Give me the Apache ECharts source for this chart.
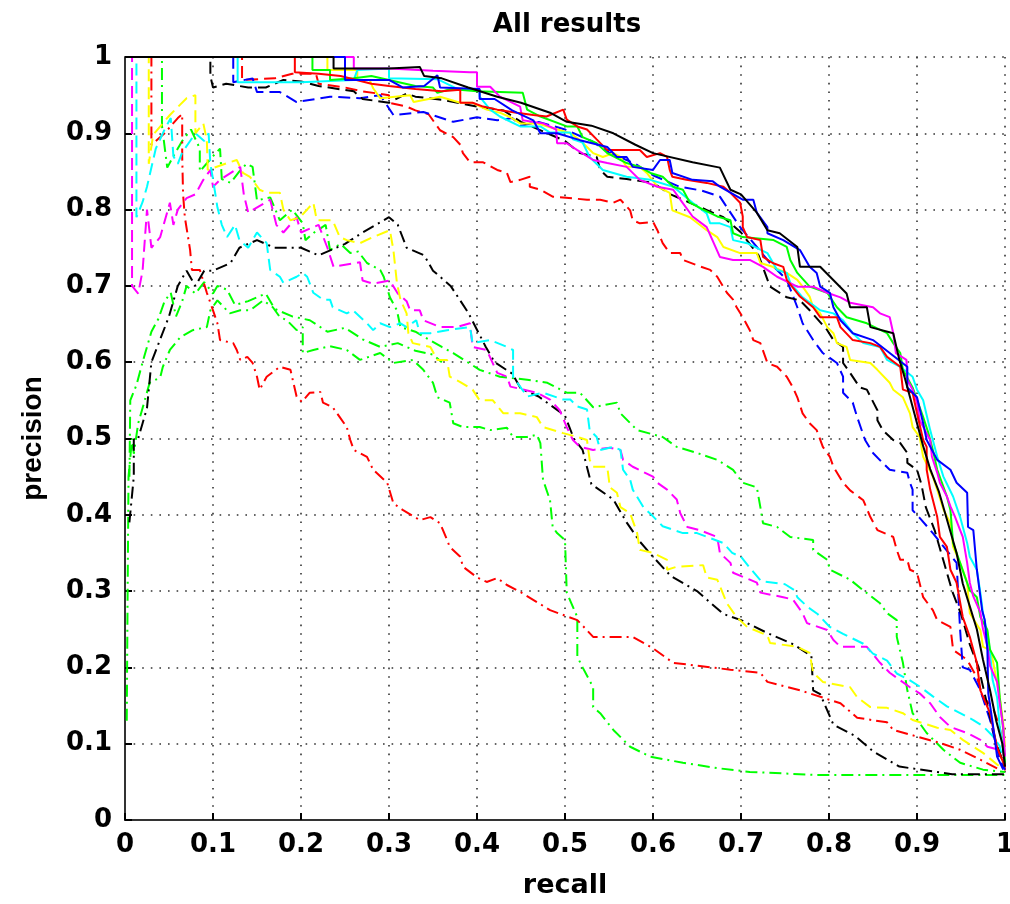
<!DOCTYPE html>
<html>
<head>
<meta charset="utf-8">
<title>All results</title>
<script src="https://cdn.jsdelivr.net/npm/echarts@6/dist/echarts.min.js"></script>
<style>
  html, body { margin: 0; padding: 0; background: #fff; overflow: hidden; }
  #prChart { width: 1010px; height: 904px; }
</style>
</head>
<body>
<div id="prChart"></div>
<script>
// recall / precision pairs
const solidRed = [[0,1],[0.193,1],[0.193,0.98],[0.22,0.978],[0.245,0.975],[0.28,0.965],[0.3,0.962],[0.33,0.958],[0.36,0.955],[0.381,0.957],[0.381,0.94],[0.395,0.94],[0.407,0.935],[0.423,0.931],[0.445,0.927],[0.464,0.924],[0.479,0.922],[0.498,0.931],[0.502,0.918],[0.514,0.909],[0.525,0.905],[0.536,0.892],[0.548,0.878],[0.585,0.878],[0.593,0.869],[0.608,0.874],[0.616,0.869],[0.619,0.852],[0.622,0.843],[0.638,0.839],[0.661,0.835],[0.68,0.83],[0.688,0.822],[0.699,0.809],[0.702,0.791],[0.702,0.777],[0.707,0.764],[0.722,0.76],[0.725,0.738],[0.736,0.73],[0.748,0.725],[0.752,0.708],[0.767,0.686],[0.782,0.672],[0.79,0.659],[0.809,0.659],[0.813,0.646],[0.827,0.629],[0.847,0.625],[0.858,0.62],[0.866,0.607],[0.881,0.594],[0.884,0.564],[0.895,0.56],[0.9,0.533],[0.907,0.498],[0.911,0.489],[0.911,0.459],[0.915,0.433],[0.923,0.397],[0.926,0.371],[0.934,0.358],[0.938,0.328],[0.945,0.311],[0.952,0.266],[0.96,0.24],[0.968,0.206],[0.972,0.17],[0.983,0.14],[0.991,0.095],[1,0.07]];
const solidGreen = [[0,1],[0.213,1],[0.213,0.983],[0.233,0.983],[0.233,0.97],[0.26,0.972],[0.28,0.975],[0.33,0.962],[0.35,0.96],[0.355,0.953],[0.37,0.958],[0.4,0.955],[0.452,0.953],[0.457,0.931],[0.472,0.922],[0.502,0.909],[0.514,0.909],[0.52,0.895],[0.536,0.887],[0.548,0.874],[0.57,0.861],[0.585,0.856],[0.597,0.848],[0.611,0.843],[0.623,0.83],[0.634,0.826],[0.642,0.809],[0.657,0.8],[0.673,0.791],[0.688,0.786],[0.691,0.769],[0.702,0.764],[0.737,0.76],[0.752,0.751],[0.756,0.734],[0.764,0.717],[0.778,0.699],[0.798,0.691],[0.809,0.672],[0.82,0.659],[0.843,0.651],[0.866,0.638],[0.873,0.625],[0.881,0.612],[0.884,0.59],[0.895,0.567],[0.907,0.528],[0.913,0.507],[0.918,0.485],[0.923,0.459],[0.934,0.424],[0.938,0.406],[0.941,0.363],[0.949,0.337],[0.96,0.301],[0.968,0.292],[0.972,0.266],[0.98,0.249],[0.983,0.223],[0.991,0.206],[0.994,0.161],[0.998,0.118],[1,0.075]];
const solidBlue = [[0,1],[0.25,1],[0.25,0.97],[0.3,0.97],[0.316,0.96],[0.34,0.962],[0.355,0.976],[0.358,0.96],[0.403,0.958],[0.403,0.945],[0.42,0.945],[0.44,0.93],[0.464,0.917],[0.472,0.9],[0.491,0.9],[0.517,0.891],[0.548,0.882],[0.559,0.869],[0.57,0.869],[0.577,0.856],[0.6,0.852],[0.608,0.865],[0.619,0.865],[0.622,0.848],[0.645,0.839],[0.668,0.837],[0.676,0.83],[0.702,0.813],[0.714,0.813],[0.718,0.796],[0.73,0.777],[0.73,0.769],[0.748,0.76],[0.767,0.747],[0.778,0.725],[0.786,0.717],[0.79,0.699],[0.801,0.691],[0.805,0.672],[0.813,0.655],[0.827,0.638],[0.85,0.629],[0.869,0.612],[0.889,0.594],[0.889,0.567],[0.9,0.554],[0.907,0.52],[0.911,0.498],[0.923,0.472],[0.938,0.459],[0.945,0.442],[0.957,0.429],[0.958,0.384],[0.964,0.38],[0.968,0.328],[0.974,0.275],[0.977,0.262],[0.98,0.223],[0.981,0.166],[0.986,0.127],[0.991,0.083],[0.998,0.066]];
const solidCyan = [[0,1],[0.128,1],[0.128,0.967],[0.2,0.967],[0.26,0.97],[0.264,0.983],[0.3,0.985],[0.3,0.972],[0.355,0.971],[0.38,0.957],[0.403,0.957],[0.403,0.948],[0.415,0.931],[0.426,0.922],[0.449,0.909],[0.472,0.909],[0.483,0.901],[0.506,0.901],[0.509,0.892],[0.52,0.888],[0.528,0.869],[0.543,0.852],[0.57,0.843],[0.597,0.839],[0.623,0.83],[0.645,0.809],[0.661,0.795],[0.665,0.782],[0.676,0.782],[0.688,0.777],[0.691,0.76],[0.707,0.756],[0.73,0.743],[0.741,0.721],[0.752,0.717],[0.756,0.704],[0.77,0.685],[0.79,0.668],[0.805,0.664],[0.816,0.655],[0.827,0.638],[0.839,0.625],[0.858,0.62],[0.866,0.603],[0.881,0.594],[0.895,0.581],[0.9,0.564],[0.907,0.55],[0.915,0.511],[0.923,0.476],[0.93,0.45],[0.941,0.424],[0.949,0.397],[0.957,0.363],[0.96,0.345],[0.968,0.328],[0.972,0.298],[0.975,0.271],[0.98,0.245],[0.983,0.219],[0.986,0.183],[0.991,0.161],[0.994,0.122],[0.998,0.092],[1,0.075]];
const solidMagenta = [[0,1],[0.26,1],[0.26,0.985],[0.3,0.985],[0.35,0.982],[0.392,0.98],[0.4,0.98],[0.4,0.961],[0.415,0.961],[0.426,0.948],[0.449,0.935],[0.452,0.917],[0.475,0.913],[0.49,0.905],[0.491,0.887],[0.502,0.887],[0.514,0.878],[0.532,0.865],[0.548,0.861],[0.57,0.856],[0.585,0.839],[0.605,0.83],[0.623,0.826],[0.631,0.813],[0.645,0.791],[0.661,0.777],[0.676,0.738],[0.691,0.734],[0.71,0.734],[0.725,0.725],[0.741,0.712],[0.764,0.699],[0.782,0.699],[0.798,0.691],[0.813,0.685],[0.824,0.678],[0.85,0.672],[0.858,0.664],[0.869,0.659],[0.873,0.638],[0.876,0.612],[0.888,0.603],[0.889,0.577],[0.895,0.564],[0.9,0.547],[0.903,0.524],[0.909,0.511],[0.915,0.498],[0.917,0.476],[0.923,0.455],[0.926,0.442],[0.934,0.424],[0.938,0.411],[0.943,0.398],[0.949,0.38],[0.952,0.371],[0.957,0.337],[0.96,0.311],[0.964,0.293],[0.972,0.272],[0.975,0.25],[0.98,0.228],[0.983,0.202],[0.991,0.181],[0.994,0.153],[0.998,0.122],[1,0.083]];
const solidYellow = [[0,1],[0.23,1],[0.23,0.983],[0.264,0.983],[0.264,0.97],[0.278,0.97],[0.282,0.959],[0.29,0.946],[0.324,0.95],[0.328,0.941],[0.358,0.948],[0.381,0.94],[0.395,0.94],[0.411,0.931],[0.426,0.927],[0.438,0.921],[0.449,0.913],[0.468,0.913],[0.483,0.908],[0.506,0.9],[0.517,0.891],[0.525,0.882],[0.532,0.874],[0.543,0.869],[0.555,0.874],[0.563,0.869],[0.57,0.856],[0.585,0.856],[0.593,0.848],[0.605,0.83],[0.619,0.822],[0.622,0.799],[0.642,0.79],[0.661,0.773],[0.673,0.764],[0.68,0.751],[0.699,0.743],[0.718,0.743],[0.722,0.73],[0.736,0.725],[0.752,0.717],[0.764,0.708],[0.77,0.699],[0.778,0.686],[0.782,0.672],[0.79,0.664],[0.798,0.646],[0.805,0.638],[0.809,0.625],[0.82,0.62],[0.824,0.603],[0.847,0.599],[0.855,0.59],[0.869,0.573],[0.873,0.564],[0.884,0.554],[0.892,0.533],[0.895,0.515],[0.903,0.502],[0.907,0.476],[0.918,0.45],[0.923,0.433],[0.93,0.407],[0.938,0.389],[0.941,0.358],[0.949,0.337],[0.957,0.311],[0.96,0.271],[0.972,0.249],[0.975,0.227],[0.983,0.223],[0.986,0.21],[0.991,0.18],[0.994,0.161],[0.998,0.127],[1,0.096]];
const solidBlack = [[0,1],[0.237,1],[0.237,0.985],[0.3,0.985],[0.335,0.987],[0.34,0.975],[0.36,0.972],[0.39,0.96],[0.423,0.948],[0.45,0.94],[0.483,0.927],[0.502,0.915],[0.53,0.91],[0.555,0.9],[0.58,0.885],[0.6,0.874],[0.645,0.862],[0.676,0.855],[0.688,0.826],[0.7,0.82],[0.718,0.796],[0.73,0.773],[0.744,0.769],[0.764,0.751],[0.767,0.725],[0.79,0.725],[0.82,0.69],[0.824,0.672],[0.843,0.672],[0.847,0.646],[0.873,0.638],[0.88,0.603],[0.886,0.58],[0.893,0.55],[0.9,0.52],[0.907,0.49],[0.915,0.46],[0.925,0.43],[0.935,0.39],[0.945,0.35],[0.952,0.31],[0.96,0.28],[0.968,0.25],[0.975,0.21],[0.983,0.17],[0.99,0.13],[0.997,0.1],[1,0.07]];

const dashedRed = [[0,1],[0.133,1],[0.133,0.97],[0.17,0.972],[0.19,0.978],[0.217,0.978],[0.22,0.965],[0.25,0.96],[0.27,0.955],[0.3,0.95],[0.3,0.94],[0.32,0.935],[0.33,0.93],[0.345,0.925],[0.358,0.904],[0.373,0.895],[0.381,0.885],[0.384,0.874],[0.392,0.862],[0.407,0.862],[0.423,0.852],[0.434,0.848],[0.438,0.836],[0.449,0.839],[0.46,0.843],[0.46,0.83],[0.472,0.826],[0.486,0.817],[0.525,0.813],[0.54,0.813],[0.555,0.809],[0.563,0.813],[0.574,0.799],[0.577,0.786],[0.585,0.782],[0.6,0.784],[0.605,0.773],[0.611,0.756],[0.619,0.743],[0.631,0.743],[0.634,0.734],[0.65,0.727],[0.665,0.721],[0.673,0.712],[0.684,0.691],[0.691,0.682],[0.695,0.672],[0.702,0.659],[0.71,0.642],[0.714,0.629],[0.722,0.625],[0.73,0.599],[0.741,0.594],[0.752,0.581],[0.759,0.567],[0.764,0.554],[0.77,0.533],[0.778,0.52],[0.786,0.511],[0.793,0.489],[0.801,0.476],[0.805,0.463],[0.816,0.442],[0.824,0.432],[0.839,0.419],[0.847,0.397],[0.855,0.38],[0.873,0.371],[0.877,0.354],[0.881,0.341],[0.889,0.341],[0.892,0.328],[0.9,0.324],[0.907,0.292],[0.918,0.275],[0.923,0.262],[0.938,0.253],[0.941,0.223],[0.957,0.21],[0.968,0.187],[0.975,0.161],[0.986,0.148],[0.994,0.122],[0.998,0.092],[1,0.065]];
const dashedBlue = [[0,1],[0.123,1],[0.123,0.967],[0.145,0.972],[0.15,0.954],[0.176,0.954],[0.195,0.941],[0.233,0.948],[0.267,0.946],[0.29,0.95],[0.305,0.924],[0.339,0.928],[0.373,0.915],[0.4,0.921],[0.423,0.917],[0.44,0.92],[0.45,0.91],[0.47,0.915],[0.5,0.905],[0.53,0.89],[0.55,0.875],[0.58,0.86],[0.6,0.845],[0.63,0.83],[0.655,0.825],[0.676,0.817],[0.699,0.777],[0.718,0.751],[0.733,0.73],[0.752,0.708],[0.764,0.672],[0.77,0.651],[0.782,0.629],[0.793,0.612],[0.809,0.599],[0.816,0.581],[0.816,0.56],[0.827,0.547],[0.832,0.528],[0.841,0.498],[0.85,0.481],[0.861,0.468],[0.869,0.459],[0.889,0.455],[0.892,0.442],[0.895,0.433],[0.895,0.406],[0.903,0.396],[0.918,0.376],[0.945,0.337],[0.949,0.249],[0.952,0.2],[0.96,0.197],[0.972,0.17],[0.983,0.131],[0.994,0.079],[1,0.066]];
const dashedBlack = [[0,1],[0.097,1],[0.097,0.975],[0.1,0.96],[0.115,0.965],[0.14,0.96],[0.16,0.96],[0.18,0.97],[0.2,0.968],[0.22,0.962],[0.26,0.955],[0.27,0.945],[0.3,0.94],[0.32,0.952],[0.33,0.948],[0.36,0.944],[0.4,0.935],[0.43,0.93],[0.45,0.915],[0.48,0.9],[0.5,0.89],[0.517,0.874],[0.536,0.869],[0.54,0.852],[0.548,0.843],[0.57,0.84],[0.6,0.835],[0.62,0.82],[0.64,0.81],[0.66,0.8],[0.68,0.79],[0.7,0.77],[0.72,0.74],[0.733,0.699],[0.752,0.685],[0.767,0.681],[0.778,0.668],[0.798,0.642],[0.805,0.629],[0.816,0.62],[0.816,0.599],[0.824,0.586],[0.835,0.567],[0.843,0.564],[0.855,0.537],[0.855,0.524],[0.861,0.511],[0.873,0.498],[0.881,0.494],[0.889,0.481],[0.889,0.468],[0.9,0.459],[0.905,0.44],[0.91,0.41],[0.92,0.38],[0.93,0.34],[0.94,0.3],[0.95,0.27],[0.96,0.23],[0.97,0.2],[0.98,0.15],[0.99,0.1],[1,0.07]];
const dashedYellow = [[0,1],[0.027,1],[0.027,0.86],[0.032,0.898],[0.051,0.924],[0.07,0.946],[0.08,0.95],[0.08,0.9],[0.089,0.913],[0.093,0.891],[0.094,0.852],[0.116,0.861],[0.127,0.865],[0.134,0.848],[0.142,0.843],[0.153,0.826],[0.161,0.822],[0.176,0.822],[0.18,0.8],[0.188,0.786],[0.199,0.79],[0.214,0.809],[0.218,0.786],[0.236,0.786],[0.244,0.764],[0.252,0.76],[0.267,0.756],[0.282,0.764],[0.301,0.773],[0.305,0.747],[0.309,0.704],[0.313,0.682],[0.32,0.664],[0.322,0.638],[0.327,0.625],[0.347,0.62],[0.355,0.603],[0.366,0.603],[0.369,0.581],[0.381,0.574],[0.395,0.564],[0.403,0.55],[0.418,0.55],[0.43,0.533],[0.449,0.533],[0.468,0.528],[0.475,0.515],[0.498,0.507],[0.514,0.502],[0.525,0.498],[0.528,0.472],[0.532,0.463],[0.548,0.463],[0.551,0.436],[0.559,0.429],[0.563,0.41],[0.574,0.402],[0.582,0.376],[0.585,0.354],[0.6,0.35],[0.616,0.341],[0.616,0.328],[0.627,0.332],[0.657,0.334],[0.661,0.318],[0.673,0.315],[0.684,0.284],[0.695,0.266],[0.707,0.253],[0.73,0.242],[0.733,0.232],[0.764,0.227],[0.778,0.219],[0.782,0.193],[0.793,0.181],[0.824,0.174],[0.832,0.161],[0.847,0.148],[0.866,0.147],[0.884,0.14],[0.895,0.131],[0.923,0.121],[0.938,0.118],[0.952,0.105],[0.975,0.088],[0.998,0.066]];
const dashedMagenta = [[0,1],[0.008,1],[0.008,0.7],[0.015,0.69],[0.02,0.72],[0.025,0.8],[0.03,0.75],[0.04,0.764],[0.051,0.809],[0.055,0.78],[0.06,0.8],[0.07,0.815],[0.08,0.82],[0.089,0.839],[0.097,0.852],[0.1,0.83],[0.108,0.839],[0.131,0.856],[0.135,0.82],[0.14,0.796],[0.165,0.813],[0.172,0.78],[0.18,0.77],[0.195,0.79],[0.2,0.77],[0.22,0.78],[0.23,0.75],[0.237,0.725],[0.267,0.731],[0.27,0.707],[0.282,0.703],[0.301,0.707],[0.31,0.69],[0.32,0.68],[0.324,0.668],[0.335,0.668],[0.339,0.655],[0.358,0.646],[0.377,0.646],[0.392,0.651],[0.395,0.62],[0.411,0.616],[0.423,0.586],[0.434,0.581],[0.438,0.568],[0.468,0.56],[0.483,0.551],[0.494,0.537],[0.502,0.515],[0.509,0.498],[0.517,0.489],[0.532,0.485],[0.551,0.488],[0.563,0.485],[0.566,0.472],[0.577,0.463],[0.6,0.45],[0.605,0.442],[0.616,0.433],[0.627,0.42],[0.631,0.402],[0.639,0.384],[0.653,0.38],[0.673,0.371],[0.676,0.35],[0.688,0.337],[0.691,0.324],[0.71,0.315],[0.718,0.311],[0.722,0.298],[0.748,0.292],[0.759,0.289],[0.77,0.271],[0.775,0.258],[0.798,0.249],[0.805,0.236],[0.813,0.227],[0.843,0.227],[0.858,0.206],[0.869,0.193],[0.881,0.183],[0.892,0.174],[0.903,0.166],[0.915,0.153],[0.926,0.135],[0.938,0.122],[0.957,0.114],[0.972,0.105],[0.98,0.096],[1,0.09]];
const dashedCyan = [[0,1],[0.013,1],[0.013,0.79],[0.02,0.81],[0.025,0.83],[0.035,0.88],[0.045,0.905],[0.052,0.92],[0.055,0.87],[0.06,0.86],[0.065,0.875],[0.08,0.9],[0.09,0.89],[0.095,0.9],[0.097,0.86],[0.1,0.84],[0.105,0.803],[0.11,0.78],[0.116,0.764],[0.125,0.78],[0.13,0.76],[0.14,0.75],[0.15,0.77],[0.161,0.756],[0.165,0.721],[0.176,0.712],[0.18,0.704],[0.195,0.712],[0.202,0.717],[0.207,0.712],[0.214,0.691],[0.225,0.682],[0.233,0.682],[0.236,0.672],[0.252,0.664],[0.259,0.668],[0.275,0.651],[0.282,0.642],[0.29,0.651],[0.301,0.646],[0.313,0.651],[0.32,0.646],[0.331,0.655],[0.335,0.638],[0.347,0.638],[0.366,0.642],[0.392,0.646],[0.395,0.625],[0.415,0.629],[0.434,0.62],[0.441,0.616],[0.441,0.581],[0.449,0.568],[0.457,0.555],[0.475,0.56],[0.498,0.551],[0.506,0.551],[0.514,0.542],[0.525,0.538],[0.528,0.511],[0.536,0.502],[0.54,0.485],[0.555,0.489],[0.563,0.485],[0.566,0.459],[0.574,0.446],[0.577,0.433],[0.589,0.41],[0.6,0.398],[0.611,0.385],[0.634,0.376],[0.65,0.376],[0.68,0.363],[0.69,0.35],[0.7,0.345],[0.709,0.332],[0.723,0.313],[0.75,0.309],[0.761,0.301],[0.764,0.292],[0.776,0.279],[0.787,0.27],[0.801,0.253],[0.816,0.244],[0.839,0.231],[0.85,0.218],[0.866,0.209],[0.877,0.192],[0.892,0.183],[0.903,0.175],[0.918,0.162],[0.934,0.149],[0.949,0.14],[0.964,0.131],[0.975,0.123],[0.986,0.11],[0.994,0.097],[1,0.066]];

const dashDotRed = [[0,1],[0.03,1],[0.03,0.885],[0.045,0.9],[0.06,0.92],[0.065,0.925],[0.065,0.87],[0.066,0.82],[0.068,0.79],[0.074,0.747],[0.076,0.721],[0.085,0.721],[0.093,0.691],[0.1,0.668],[0.105,0.651],[0.108,0.629],[0.123,0.625],[0.127,0.616],[0.131,0.603],[0.139,0.607],[0.145,0.599],[0.15,0.581],[0.153,0.564],[0.161,0.581],[0.176,0.594],[0.188,0.59],[0.195,0.555],[0.201,0.548],[0.21,0.56],[0.222,0.561],[0.225,0.547],[0.236,0.541],[0.244,0.528],[0.252,0.515],[0.256,0.498],[0.26,0.485],[0.275,0.476],[0.282,0.459],[0.298,0.442],[0.305,0.415],[0.316,0.406],[0.335,0.393],[0.347,0.397],[0.358,0.389],[0.366,0.367],[0.369,0.358],[0.381,0.345],[0.384,0.332],[0.4,0.318],[0.411,0.312],[0.423,0.317],[0.434,0.308],[0.449,0.299],[0.483,0.275],[0.514,0.262],[0.532,0.24],[0.577,0.24],[0.6,0.225],[0.623,0.206],[0.688,0.197],[0.722,0.193],[0.73,0.181],[0.767,0.17],[0.813,0.153],[0.832,0.134],[0.866,0.128],[0.873,0.118],[0.895,0.111],[0.926,0.101],[0.949,0.092],[0.972,0.079],[0.994,0.066]];
const dashDotBlack = [[0.005,0.39],[0.01,0.45],[0.01,0.5],[0.015,0.5],[0.02,0.52],[0.025,0.54],[0.03,0.6],[0.04,0.63],[0.05,0.66],[0.06,0.7],[0.07,0.72],[0.08,0.7],[0.09,0.72],[0.1,0.72],[0.12,0.73],[0.13,0.75],[0.15,0.76],[0.17,0.75],[0.2,0.75],[0.22,0.74],[0.25,0.755],[0.27,0.77],[0.3,0.79],[0.31,0.78],[0.32,0.75],[0.34,0.74],[0.35,0.72],[0.37,0.7],[0.39,0.665],[0.41,0.62],[0.42,0.6],[0.44,0.585],[0.45,0.565],[0.47,0.555],[0.5,0.53],[0.51,0.5],[0.52,0.485],[0.53,0.44],[0.555,0.42],[0.57,0.39],[0.585,0.365],[0.6,0.345],[0.62,0.32],[0.65,0.3],[0.68,0.27],[0.7,0.262],[0.73,0.245],[0.76,0.23],[0.78,0.215],[0.782,0.17],[0.79,0.165],[0.805,0.125],[0.83,0.11],[0.85,0.09],[0.88,0.07],[0.94,0.06],[1,0.06]];
const dashDotGreenBand = [[0,1],[0.042,1],[0.042,0.91],[0.048,0.855],[0.055,0.87],[0.065,0.89],[0.075,0.905],[0.085,0.88],[0.085,0.85],[0.1,0.87],[0.108,0.88],[0.11,0.84],[0.12,0.835],[0.13,0.85],[0.138,0.86],[0.145,0.856],[0.15,0.812],[0.165,0.816],[0.176,0.786],[0.19,0.8],[0.202,0.782],[0.205,0.76],[0.215,0.77],[0.228,0.78],[0.233,0.747],[0.245,0.755],[0.256,0.743],[0.265,0.745],[0.275,0.73],[0.29,0.721],[0.294,0.712],[0.301,0.685],[0.309,0.668],[0.313,0.646],[0.33,0.64],[0.345,0.63],[0.36,0.62],[0.373,0.612],[0.403,0.59],[0.426,0.581],[0.457,0.577],[0.48,0.573],[0.502,0.56],[0.517,0.56],[0.532,0.541],[0.559,0.547],[0.563,0.533],[0.582,0.511],[0.611,0.502],[0.627,0.489],[0.65,0.481],[0.673,0.472],[0.691,0.459],[0.702,0.442],[0.718,0.436],[0.722,0.41],[0.725,0.389],[0.741,0.384],[0.756,0.371],[0.782,0.367],[0.782,0.354],[0.798,0.341],[0.801,0.328],[0.824,0.315],[0.839,0.301],[0.858,0.284],[0.866,0.271],[0.877,0.262],[0.877,0.24],[0.884,0.206],[0.889,0.17],[0.895,0.14],[0.911,0.114],[0.93,0.092],[0.949,0.075],[0.975,0.066],[1,0.063]];
const dashDotGreenLow = [[0.002,0.13],[0.003,0.3],[0.004,0.45],[0.008,0.5],[0.01,0.48],[0.015,0.52],[0.02,0.54],[0.028,0.573],[0.04,0.58],[0.043,0.594],[0.051,0.616],[0.063,0.633],[0.077,0.642],[0.093,0.646],[0.097,0.668],[0.105,0.681],[0.119,0.664],[0.131,0.668],[0.142,0.668],[0.157,0.681],[0.168,0.672],[0.176,0.659],[0.184,0.655],[0.195,0.642],[0.202,0.646],[0.202,0.612],[0.214,0.616],[0.233,0.621],[0.252,0.616],[0.267,0.603],[0.29,0.612],[0.305,0.599],[0.327,0.603],[0.339,0.59],[0.35,0.573],[0.355,0.554],[0.369,0.547],[0.373,0.52],[0.384,0.515],[0.403,0.515],[0.415,0.511],[0.434,0.514],[0.441,0.502],[0.457,0.502],[0.468,0.505],[0.472,0.494],[0.475,0.446],[0.483,0.419],[0.486,0.384],[0.491,0.376],[0.5,0.367],[0.502,0.298],[0.514,0.266],[0.514,0.214],[0.52,0.2],[0.532,0.174],[0.532,0.148],[0.54,0.14],[0.555,0.118],[0.574,0.096],[0.597,0.083],[0.634,0.075],[0.673,0.068],[0.71,0.063],[0.786,0.059],[1,0.059]];
const dashDotGreenHigh = [[0.005,0.45],[0.006,0.55],[0.013,0.57],[0.02,0.6],[0.025,0.62],[0.03,0.64],[0.038,0.657],[0.045,0.68],[0.052,0.691],[0.058,0.66],[0.065,0.68],[0.07,0.7],[0.08,0.69],[0.09,0.705],[0.1,0.69],[0.105,0.7],[0.116,0.695],[0.125,0.675],[0.14,0.68],[0.16,0.69],[0.17,0.67],[0.19,0.66],[0.21,0.655],[0.23,0.64],[0.25,0.645],[0.27,0.63],[0.29,0.62],[0.31,0.625],[0.33,0.615],[0.35,0.61],[0.36,0.6]];

const axisTicks = [0, 0.1, 0.2, 0.3, 0.4, 0.5, 0.6, 0.7, 0.8, 0.9, 1];

const SOLID = "solid";
const DASHED = [12, 6];
const DASHDOT = [12, 5, 2, 5];

const curves = [
  { data: dashDotGreenLow, color: "#00ff00", type: DASHDOT },
  { data: dashDotGreenHigh, color: "#00ff00", type: DASHDOT },
  { data: dashDotGreenBand, color: "#00ff00", type: DASHDOT },
  { data: dashDotRed, color: "#ff0000", type: DASHDOT },
  { data: dashDotBlack, color: "#000000", type: DASHDOT },
  { data: dashedMagenta, color: "#ff00ff", type: DASHED },
  { data: dashedCyan, color: "#00ffff", type: DASHED },
  { data: dashedYellow, color: "#ffff00", type: DASHED },
  { data: dashedRed, color: "#ff0000", type: DASHED },
  { data: dashedBlue, color: "#0000ff", type: DASHED },
  { data: dashedBlack, color: "#000000", type: DASHED },
  { data: solidYellow, color: "#ffff00", type: SOLID },
  { data: solidCyan, color: "#00ffff", type: SOLID },
  { data: solidGreen, color: "#00ff00", type: SOLID },
  { data: solidMagenta, color: "#ff00ff", type: SOLID },
  { data: solidRed, color: "#ff0000", type: SOLID },
  { data: solidBlue, color: "#0000ff", type: SOLID },
  { data: solidBlack, color: "#000000", type: SOLID },
];

// the picture is stretched sideways, so the wider DejaVu face fits the flat texts
const wideFont = {
  color: "#000",
  fontSize: 26,
  fontWeight: "bold",
  fontFamily: "DejaVu Sans",
};
const uprightFont = {
  color: "#000",
  fontSize: 28,
  fontWeight: "bold",
  fontFamily: "Liberation Sans",
};

function makeAxis(name, gap, margin, nameFont) {
  return {
    type: "value",
    min: axisTicks[0],
    max: axisTicks[axisTicks.length - 1],
    interval: 0.1,
    name: name,
    nameLocation: "middle",
    nameGap: gap,
    nameTextStyle: nameFont,
    axisLine: { show: true, lineStyle: { color: "#333", width: 2 } },
    axisTick: { show: true, inside: true, length: 7, lineStyle: { color: "#000", width: 2 } },
    axisLabel: Object.assign({ margin: margin }, wideFont),
    splitLine: {
      show: true,
      lineStyle: { color: "#333", width: 1.6, type: [1.6, 7] },
    },
  };
}

let chart = echarts.init(document.getElementById("prChart"));
chart.setOption({
  animation: false,
  backgroundColor: "#fff",
  title: {
    text: "All results",
    left: 562,
    textAlign: "center",
    top: 7,
    textStyle: wideFont,
  },
  grid: { left: 125, right: 5, top: 57, bottom: 84, containLabel: false, outerBoundsMode: "none" },
  xAxis: makeAxis("recall", 52, 12, Object.assign({}, wideFont, { fontSize: 27 })),
  yAxis: makeAxis("precision", 78, 13, uprightFont),
  series: curves.map((c) => ({
    type: "line",
    data: c.data,
    symbol: "none",
    silent: true,
    lineStyle: { color: c.color, width: 2, type: c.type },
  })),
});
</script>
</body>
</html>
